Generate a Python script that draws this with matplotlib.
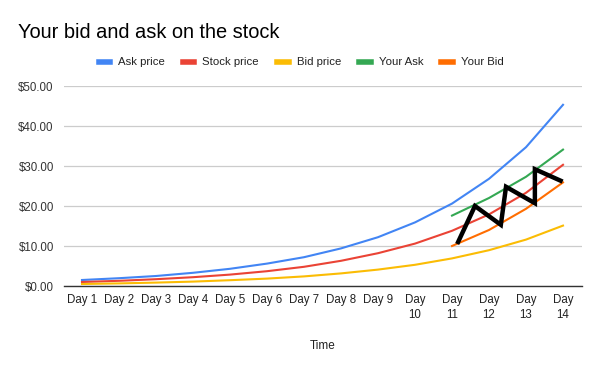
import matplotlib
matplotlib.use("Agg")
import matplotlib.pyplot as plt
from matplotlib.ticker import FuncFormatter

plt.rcParams['font.family'] = ['Liberation Sans', 'DejaVu Sans']

days = list(range(1, 15))
day_labels = ["Day 1", "Day 2", "Day 3", "Day 4", "Day 5", "Day 6", "Day 7", "Day 8", "Day 9",
              "Day\n10", "Day\n11", "Day\n12", "Day\n13", "Day\n14"]
ask_price = [1.5, 1.95, 2.5, 3.3, 4.3, 5.6, 7.2, 9.4, 12.2, 15.9, 20.6, 26.8, 34.7, 45.3]
stock_price = [1.0, 1.3, 1.7, 2.2, 2.85, 3.7, 4.8, 6.3, 8.2, 10.6, 13.8, 17.9, 23.3, 30.3]
bid_price = [0.5, 0.65, 0.85, 1.1, 1.45, 1.85, 2.4, 3.15, 4.1, 5.3, 6.9, 8.95, 11.6, 15.1]
your_days = [11, 12, 13, 14]
your_ask = [17.6, 22.0, 27.3, 34.1]
your_bid = [10.0, 14.0, 19.3, 25.9]
# hand-drawn zigzag overlay
zig_x = [11.14, 11.62, 12.32, 12.46, 13.24, 13.24, 13.99]
zig_y = [10.5, 20.0, 15.3, 24.8, 20.7, 29.2, 26.1]

fig = plt.figure(figsize=(6, 3.71), dpi=100)
ax = fig.add_axes([63.5/600, 85/371, 518/600, 200/371])

c_ask, c_stock, c_bid, c_yask, c_ybid = '#4285F4', '#EA4335', '#FBBC04', '#34A853', '#FF6D01'
lw = 1.5
ax.plot(days, ask_price, color=c_ask, lw=lw, label='Ask price')
ax.plot(days, stock_price, color=c_stock, lw=lw, label='Stock price')
ax.plot(days, bid_price, color=c_bid, lw=lw, label='Bid price')
ax.plot(your_days, your_ask, color=c_yask, lw=lw, label='Your Ask')
ax.plot(your_days, your_bid, color=c_ybid, lw=lw, label='Your Bid')
ax.plot(zig_x, zig_y, color='black', lw=3.2, solid_joinstyle='miter', solid_capstyle='butt', zorder=5)

ax.set_xlim(0.5, 14.5)
ax.set_ylim(0, 50)
ax.set_yticks([0, 10, 20, 30, 40, 50])
ax.yaxis.set_major_formatter(FuncFormatter(lambda v, p: f"${v:.2f}"))
ax.set_xticks(days)
ax.set_xticklabels(day_labels, fontsize=8.3, color='#222222', linespacing=1.3, va='top')
ax.tick_params(axis='y', labelsize=8.3, colors='#333333', length=0, pad=7)
ax.tick_params(axis='x', length=0, pad=6)
ax.grid(axis='y', color='#cccccc', lw=0.9)
ax.set_axisbelow(True)
for s in ['top', 'right', 'left']:
    ax.spines[s].set_visible(False)
ax.spines['bottom'].set_color('#333333')
ax.spines['bottom'].set_linewidth(1.0)
ax.set_xlabel('Time', fontsize=8.5, color='#222222', labelpad=14)

fig.text(18/600, 1 - 38/371, 'Your bid and ask on the stock', fontsize=14.4, color='black', va='baseline')

leg = fig.legend(loc='center', bbox_to_anchor=(301/600, 1 - 62/371), ncol=5, frameon=False,
                 fontsize=8.2, handlelength=1.0, handleheight=0.3, handletextpad=0.7, columnspacing=1.6)
for h in leg.get_lines():
    h.set_linewidth(4)
for t in leg.get_texts():
    t.set_color('#222222')

fig.savefig('out.png', dpi=100)
